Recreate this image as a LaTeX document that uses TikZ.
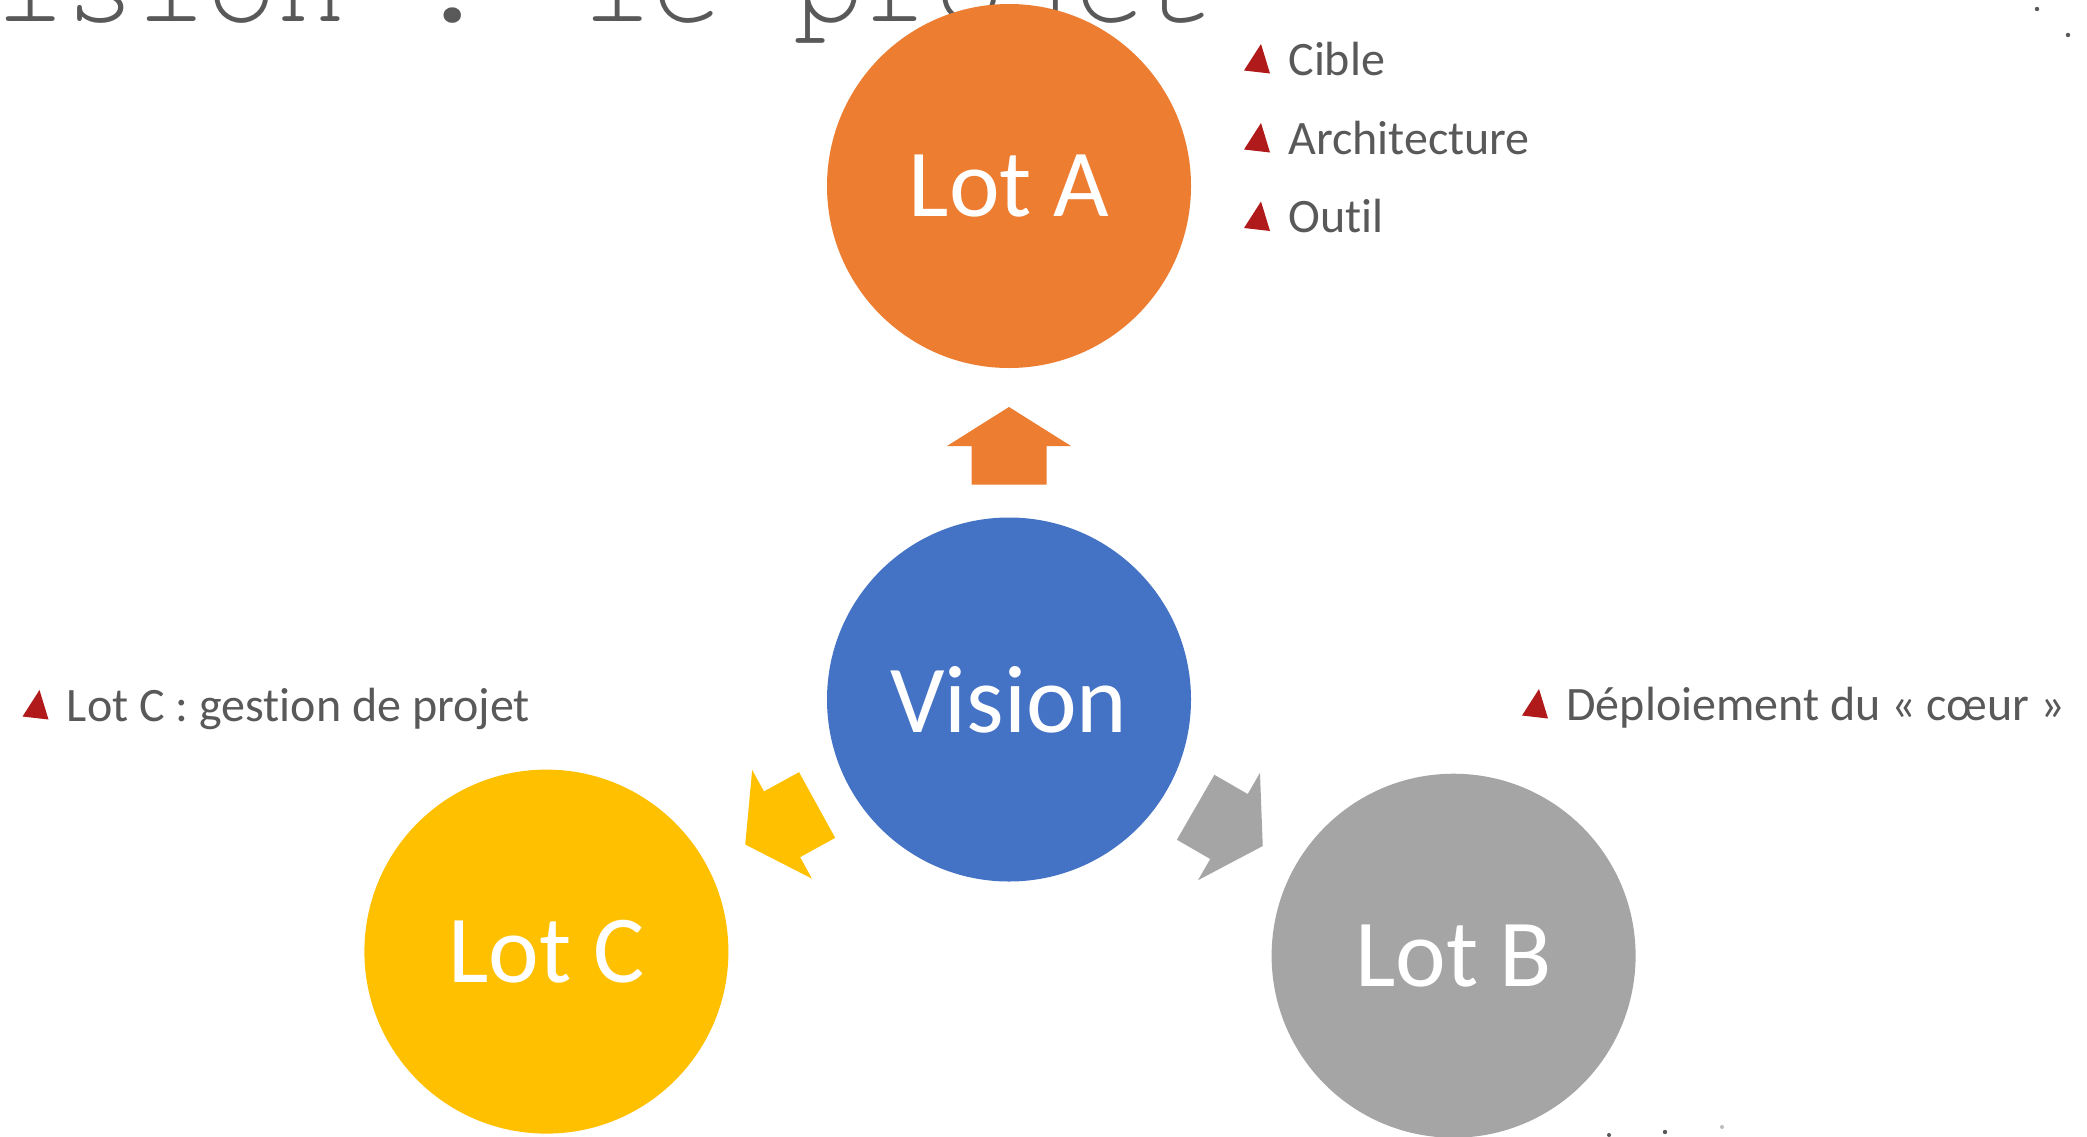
\documentclass[tikz,border=0pt]{standalone}
\usepackage{fontspec}
\setmainfont{Carlito}[Ligatures=NoCommon]
\newfontfamily\courierlike{TeX Gyre Cursor}
\definecolor{orangeA}{HTML}{ED7D31}
\definecolor{blueV}{HTML}{4472C4}
\definecolor{yellowC}{HTML}{FFC000}
\definecolor{grayB}{HTML}{A5A5A5}
\definecolor{textgray}{HTML}{595959}
\definecolor{bulletred}{HTML}{B01A1A}
\begin{document}
\begin{tikzpicture}[x=0.5pt,y=-0.5pt,
  lot/.style={circle, minimum size=182pt, inner sep=0pt, text=white, font=\fontsize{48}{56}\selectfont},
  lbl/.style={anchor=base west, inner sep=0pt, text=textgray, font=\fontsize{24}{28}\selectfont},
  bullet/.pic={\fill[bulletred] (-27,-31) -- (-44,-4.5) -- (-18,-1.5) -- cycle;},
  speck/.style={fill=textgray}]
\fill[white] (0,0) rectangle (2087,1136);
\useasboundingbox (0,0) rectangle (2087,1136);
\clip (0,0) rectangle (2087,1136);
% title (partly cut off)
\node[anchor=base west, inner sep=0pt, text=textgray, font=\courierlike\fontsize{58.7}{62}\selectfont] (title) at (-5.2,21.5) {ision : le projet};
% circles
\node[lot, fill=orangeA] (A) at (1009,186) {Lot A};
\node[lot, fill=blueV] (V) at (1009,699.5) {Vision};
\node[lot, fill=yellowC] (C) at (546.4,951.6) {Lot C};
\node[lot, fill=grayB] (B) at (1453.6,955.7) {Lot B};
% block arrows
\begin{scope}[shift={(V.center)}, rotate=90]
  \fill[orangeA] (215,-37.5) -- (253.5,-37.5) -- (253.5,-62) -- (292.5,0) -- (253.5,62) -- (253.5,37.5) -- (215,37.5) -- cycle;
\end{scope}
\begin{scope}[shift={(V.center)}, rotate=208.8]
  \fill[yellowC] (219,-37.5) -- (259,-37.5) -- (259,-62) -- (301,0) -- (259,62) -- (259,37.5) -- (219,37.5) -- cycle;
\end{scope}
\begin{scope}[shift={(V.center)}, rotate=-30]
  \fill[grayB] (215.5,-37.5) -- (254,-37.5) -- (254,-62) -- (293,0) -- (254,62) -- (254,37.5) -- (215.5,37.5) -- cycle;
\end{scope}
% labels
\node[lbl] (l1) at (1288,75) {Cible};
\node[lbl] (l2) at (1288,154) {Architecture};
\node[lbl] (l3) at (1288,232.5) {Outil};
\node[lbl] (l4) at (66.5,721) {Lot C : gestion de projet};
\node[lbl] (l5) at (1566,720) {Déploiement du «~cœur~»};
\pic at (l1.base west) {bullet};
\pic at (l2.base west) {bullet};
\pic at (l3.base west) {bullet};
\pic at (l4.base west) {bullet};
\pic at (l5.base west) {bullet};
% stray specks
\fill[speck] (2037,9) circle (2.2);
\fill[speck] (2068,35) circle (2.2);
\fill[speck] (1609,1135) circle (2);
\fill[speck] (1665,1132) circle (2.2);
\fill[speck, opacity=0.4] (1722,1127) circle (2);
\end{tikzpicture}
\end{document}
